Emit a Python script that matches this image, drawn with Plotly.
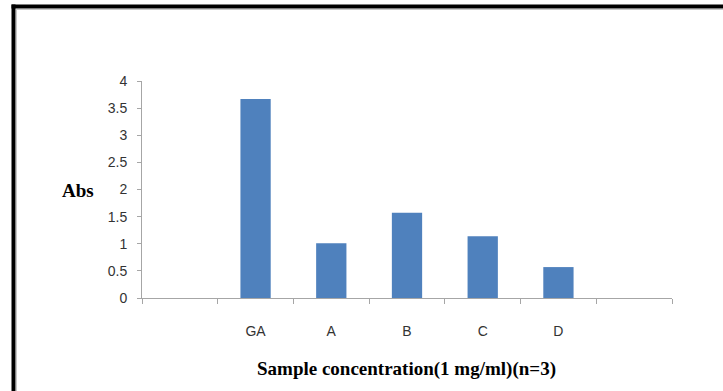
import plotly.graph_objects as go

categories = [" ", "GA", "A", "B", "C", "D", "  "]
values = [None, 3.67, 1.01, 1.57, 1.14, 0.57, None]
y_ticks = [0, 0.5, 1, 1.5, 2, 2.5, 3, 3.5, 4]
y_tick_labels = ["0", "0.5", "1", "1.5", "2", "2.5", "3", "3.5", "4"]

W, H = 723, 391
L, R, T, B = 142, 51, 81, 93
pw, ph = W - L - R, H - T - B

def px(x):
    return (x - L) / pw

def py(y):
    return (H - B - y) / ph

fig = go.Figure()
fig.add_trace(go.Bar(x=categories, y=values, width=0.4,
                     marker=dict(color="#4F81BD", line=dict(width=0))))

axis_color = "#A6A6A6"
fig.update_layout(
    width=W, height=H,
    margin=dict(l=L, r=R, t=T, b=B),
    paper_bgcolor="white", plot_bgcolor="white",
    showlegend=False,
    font=dict(family="Liberation Sans", size=14, color="#333333"),
    xaxis=dict(type="category", showgrid=False, showline=True, linecolor=axis_color,
               linewidth=1, ticks="outside", tickson="boundaries", ticklen=5,
               tickcolor=axis_color, ticklabelstandoff=20,
               tickfont=dict(size=14, color="#333333")),
    yaxis=dict(range=[0, 4], tickvals=y_ticks, ticktext=y_tick_labels, showgrid=False,
               zeroline=False, showline=True, linecolor=axis_color, linewidth=1,
               ticks="outside", ticklen=4, tickcolor=axis_color, ticklabelstandoff=7,
               tickfont=dict(size=14, color="#333333")),
)

fig.add_annotation(text="<b>Abs</b>", xref="paper", yref="paper",
                   x=px(78), y=py(190), xanchor="center", yanchor="middle", showarrow=False,
                   font=dict(family="Liberation Serif", size=19, color="black"))
fig.add_annotation(text="<b>Sample concentration(1 mg/ml)(n=3)</b>", xref="paper", yref="paper",
                   x=px(406), y=py(369), xanchor="center", yanchor="middle", showarrow=False,
                   font=dict(family="Liberation Serif", size=19, color="black"))

# frame
fig.add_shape(type="line", xref="paper", yref="paper", x0=px(13.5), x1=px(13.5),
              y0=py(H + 5), y1=py(4.5), line=dict(color="black", width=4))
fig.add_shape(type="line", xref="paper", yref="paper", x0=px(11.5), x1=px(W + 5),
              y0=py(6.5), y1=py(6.5), line=dict(color="black", width=4))
fig.add_shape(type="line", xref="paper", yref="paper", x0=px(16.5), x1=px(16.5),
              y0=py(H + 5), y1=py(9), line=dict(color="#C8C8C8", width=1))
fig.add_shape(type="line", xref="paper", yref="paper", x0=px(16), x1=px(W + 5),
              y0=py(9.5), y1=py(9.5), line=dict(color="#C8C8C8", width=1))

fig.write_html("out.html")
